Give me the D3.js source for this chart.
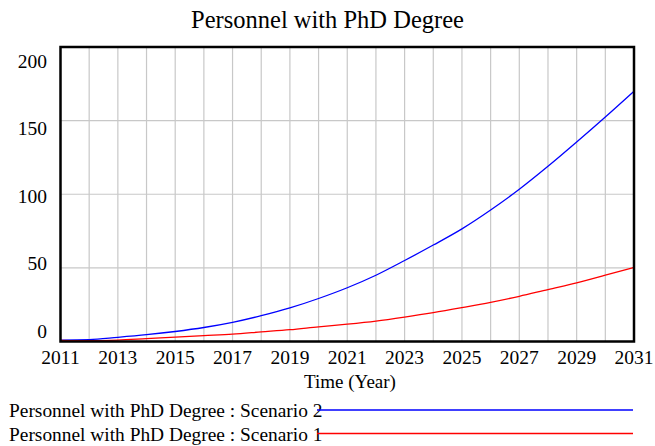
<!DOCTYPE html>
<html>
<head>
<meta charset="utf-8">
<script src="https://cdn.jsdelivr.net/npm/d3@7"></script>
<style>
  body { margin: 0; background: #fff; }
  text { font-family: "Liberation Serif", "Times New Roman", serif; fill: #000; }
</style>
</head>
<body>
<div id="chart"></div>
<script>
// chart data
var years = d3.range(2011, 2032);
var scenario2 = [1, 1.2, 2.8, 4.6, 6.8, 9.5, 13, 17.5, 22.8, 29.2, 36.5, 45, 55, 65.5, 76.5, 89.3, 103.4, 119, 135.5, 152.5, 170];
var scenario1 = [0.8, 0.6, 1, 2, 3, 4, 5, 6.5, 8, 10, 11.8, 13.9, 16.6, 19.6, 23, 26.6, 30.7, 35.3, 39.8, 45, 50.3];
var xTickLabels = [2011, 2013, 2015, 2017, 2019, 2021, 2023, 2025, 2027, 2029, 2031];
var yTickLabels = [0, 50, 100, 150, 200];
var seriesNames = ["Personnel with PhD Degree : Scenario 2", "Personnel with PhD Degree : Scenario 1"];
var seriesColors = ["#0000ff", "#ff0000"];

function drawChart() {
  var width = 655, height = 446;
  var pLeft = 60.5, pRight = 634, pTop = 47, pBottom = 341.5;

  var svg = d3.select("#chart").append("svg")
      .attr("width", width)
      .attr("height", height);

  var x = d3.scaleLinear().domain([2011, 2031]).range([pLeft, pRight]);
  var y = d3.scaleLinear().domain([0, 200]).range([pBottom, pTop]);
  // vensim spreads the y labels inside the frame
  var yLabel = d3.scaleLinear().domain([0, 200]).range([331, 61]);

  //title
  svg.append("text")
      .attr("x", 327.5)
      .attr("y", 27.5)
      .attr("text-anchor", "middle")
      .style("font-size", "24.5px")
      .text("Personnel with PhD Degree");

  //grid
  var grid = svg.append("g")
      .attr("stroke", "#c8c8c8")
      .attr("stroke-width", 1.2);

  grid.selectAll(".vgrid")
      .data(years.slice(1, -1))
    .enter().append("line")
      .attr("x1", function(d) { return x(d); })
      .attr("x2", function(d) { return x(d); })
      .attr("y1", pTop)
      .attr("y2", pBottom);

  grid.selectAll(".hgrid")
      .data(yTickLabels.slice(1, -1))
    .enter().append("line")
      .attr("x1", pLeft)
      .attr("x2", pRight)
      .attr("y1", function(d) { return y(d); })
      .attr("y2", function(d) { return y(d); });

  //series lines
  var line = d3.line()
      .x(function(d, i) { return x(years[i]); })
      .y(function(d) { return y(d); })
      .curve(d3.curveMonotoneX);

  [scenario2, scenario1].forEach(function(s, i) {
    svg.append("path")
        .datum(s)
        .attr("d", line)
        .attr("fill", "none")
        .attr("stroke", seriesColors[i])
        .attr("stroke-width", 1.3);
  });

  //frame
  svg.append("rect")
      .attr("x", pLeft)
      .attr("y", pTop)
      .attr("width", pRight - pLeft)
      .attr("height", pBottom - pTop)
      .attr("fill", "none")
      .attr("stroke", "#000")
      .attr("stroke-width", 2.5);

  //y labels
  svg.selectAll(".ylab")
      .data(yTickLabels)
    .enter().append("text")
      .attr("x", 47)
      .attr("y", function(d) { return yLabel(d); })
      .attr("dy", "0.35em")
      .attr("text-anchor", "end")
      .style("font-size", "19.5px")
      .text(function(d) { return d; });

  //x labels
  svg.selectAll(".xlab")
      .data(xTickLabels)
    .enter().append("text")
      .attr("x", function(d) { return x(d); })
      .attr("y", 364)
      .attr("text-anchor", "middle")
      .style("font-size", "19.5px")
      .text(function(d) { return d; });

  svg.append("text")
      .attr("x", 350)
      .attr("y", 387.5)
      .attr("text-anchor", "middle")
      .style("font-size", "19px")
      .text("Time (Year)");

  //legend
  var legend = svg.append("g");
  seriesNames.forEach(function(name, i) {
    var ly = 410 + i * 23.5;
    legend.append("text")
        .attr("x", 9)
        .attr("y", ly + 7)
        .style("font-size", "19.4px")
        .text(name);
    legend.append("line")
        .attr("x1", 317)
        .attr("x2", 633)
        .attr("y1", ly)
        .attr("y2", ly)
        .attr("stroke", seriesColors[i])
        .attr("stroke-width", 1.3);
  });
}

drawChart();
</script>
</body>
</html>
